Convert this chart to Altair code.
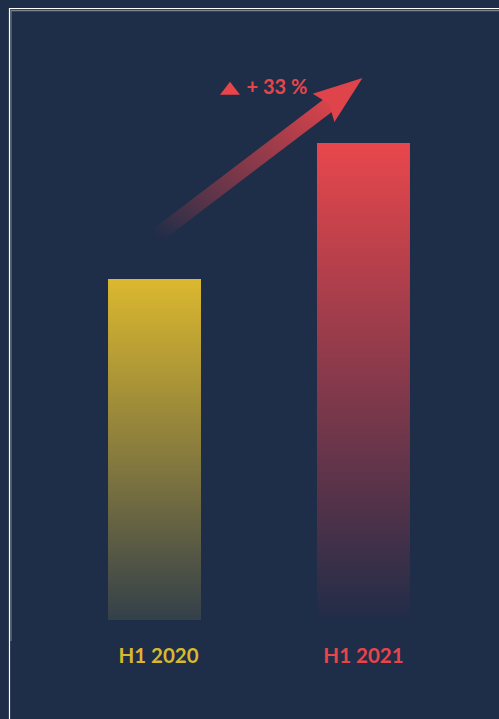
import altair as alt
import pandas as pd

# ---- data ----
periods = ["H1 2020", "H1 2021"]
values = [7.15, 10.0]
label_colors = ["#dab82e", "#e8454b"]

growth_text = ["+ 33 %"]

# arrow annotation (x: fraction of plot width, y: value units)
arrow_x = [0.283, 0.662]
arrow_y = [8.03, 10.93]
head_x = [0.675]
head_y = [11.05]
head_angle = [52.6]
badge_x = [0.4396]
badge_y = [11.15]
text_x = [0.474]
text_y = [11.16]

BG = "#1e2d48"
YDOM = [0, 13]

bars_df = pd.DataFrame({"period": periods, "value": values})

xscale = alt.Scale(domain=periods, paddingInner=0.555, paddingOuter=0.426)
yscale = alt.Scale(domain=YDOM, nice=False, zero=True)

xaxis = alt.Axis(
    title=None, domain=False, ticks=False, grid=False, labelAngle=0,
    labelFont="Lato", labelFontSize=20.5, labelFontWeight="bold", labelPadding=26,
    labelColor=alt.condition(f"datum.value == '{periods[0]}'",
                             alt.value(label_colors[0]), alt.value(label_colors[1])),
    labelOffset=alt.condition(f"datum.value == '{periods[0]}'",
                              alt.value(4), alt.value(0)),
)

grad_yellow = alt.Gradient(
    gradient="linear", x1=0, y1=0, x2=0, y2=1,
    stops=[alt.GradientStop(color="#dbb82f", offset=0),
           alt.GradientStop(color="#8a7d3d", offset=0.5),
           alt.GradientStop(color="#34404a", offset=1)],
)
grad_red = alt.Gradient(
    gradient="linear", x1=0, y1=0, x2=0, y2=1,
    stops=[alt.GradientStop(color="#e8474c", offset=0),
           alt.GradientStop(color="#86394b", offset=0.5),
           alt.GradientStop(color="#212c48", offset=1)],
)

base_bar = alt.Chart(bars_df).encode(
    x=alt.X("period:N", scale=xscale, axis=xaxis),
    y=alt.Y("value:Q", scale=yscale, axis=None),
)
bar1 = base_bar.mark_bar(fill=grad_yellow).transform_filter(f"datum.period == '{periods[0]}'")
bar2 = base_bar.mark_bar(fill=grad_red).transform_filter(f"datum.period == '{periods[1]}'")
bars = alt.layer(bar1, bar2)

# arrow
ax = alt.Scale(domain=[0, 1], nice=False, zero=False)
arrow_df = pd.DataFrame({"x": arrow_x, "y": arrow_y, "o": [0, 1]})
grad_arrow = alt.Gradient(
    gradient="linear", x1=0, y1=1, x2=1, y2=0,
    stops=[alt.GradientStop(color="rgba(224,68,75,0)", offset=0),
           alt.GradientStop(color="rgba(214,66,75,0.45)", offset=0.4),
           alt.GradientStop(color="rgba(224,68,75,1)", offset=1)],
)
shaft = alt.Chart(arrow_df).mark_line(stroke=grad_arrow, strokeWidth=15, strokeCap="butt").encode(
    x=alt.X("x:Q", scale=ax, axis=None),
    y=alt.Y("y:Q", scale=yscale, axis=None),
    order="o:Q",
)
head_df = pd.DataFrame({"x": head_x, "y": head_y, "a": head_angle})
head = alt.Chart(head_df).mark_point(
    shape="M0,-1L0.73,1L0,0.72L-0.73,1Z", filled=True, fill="#df444b",
    opacity=1, strokeWidth=0, size=2401,
).encode(
    x=alt.X("x:Q", scale=ax, axis=None),
    y=alt.Y("y:Q", scale=yscale, axis=None),
    angle=alt.Angle("a:Q", scale=None),
)
badge_df = pd.DataFrame({"x": badge_x, "y": badge_y})
badge = alt.Chart(badge_df).mark_point(
    shape="M0,-0.65L1,0.65L-1,0.65Z", filled=True, fill="#e8454b",
    opacity=1, strokeWidth=0, size=400,
).encode(
    x=alt.X("x:Q", scale=ax, axis=None),
    y=alt.Y("y:Q", scale=yscale, axis=None),
)
text_df = pd.DataFrame({"x": text_x, "y": text_y, "t": growth_text})
txt = alt.Chart(text_df).mark_text(
    align="left", baseline="middle", font="Lato", fontSize=20, fontWeight="bold",
    color="#e8454b",
).encode(
    x=alt.X("x:Q", scale=ax, axis=None),
    y=alt.Y("y:Q", scale=yscale, axis=None),
    text="t:N",
)

dummy = pd.DataFrame({"k": [0]})
frame = alt.layer(
    alt.Chart(dummy).mark_rule(color="#ffffff", strokeWidth=1.2).encode(
        x=alt.value(-10), x2=alt.value(490), y=alt.value(8.5), y2=alt.value(8.5)),
    alt.Chart(dummy).mark_rule(color="#ffffff", strokeWidth=1.2).encode(
        x=alt.value(-9.5), x2=alt.value(-9.5), y=alt.value(8), y2=alt.value(730)),
    alt.Chart(dummy).mark_rule(color="#7d8592", strokeWidth=1.5).encode(
        x=alt.value(-8), x2=alt.value(490), y=alt.value(10.5), y2=alt.value(10.5)),
    alt.Chart(dummy).mark_rule(color="#7d8592", strokeWidth=1).encode(
        x=alt.value(-8), x2=alt.value(-8), y=alt.value(10), y2=alt.value(641)),
)

annot = alt.layer(shaft, head, badge, txt, frame)

chart = alt.layer(bars, annot).resolve_scale(x="independent").properties(
    width=480, height=620,
    padding={"left": 19, "top": 0, "right": 0, "bottom": 99},
    autosize=alt.AutoSizeParams(type="none"),
    background=BG,
).configure_view(stroke=None)

chart.save("out.html", embed_options={"renderer": "svg", "actions": False})
